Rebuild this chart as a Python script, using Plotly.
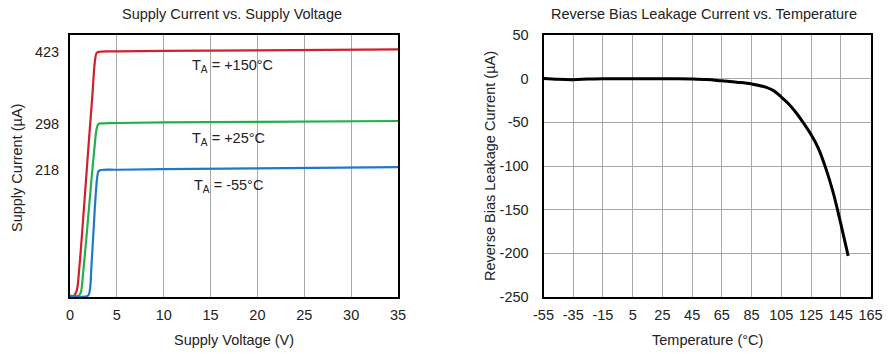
import plotly.graph_objects as go

# ---- Left chart data: Supply Current vs Supply Voltage ----
v_red = [0, 0.4, 0.7, 1.0, 1.5, 2.0, 2.4, 2.65, 2.85, 3.2, 5, 10, 20, 35]
i_red = [0, 0, 8, 50, 155, 265, 350, 405, 421, 423, 423.5, 424.5, 425.5, 427]
v_green = [0, 0.9, 1.15, 1.4, 1.8, 2.2, 2.6, 2.85, 3.05, 3.4, 5, 10, 20, 35]
i_green = [0, 0, 6, 40, 110, 185, 255, 290, 298, 299, 299.5, 300.5, 301.5, 303]
v_blue = [0, 1.9, 2.1, 2.3, 2.5, 2.7, 2.9, 3.05, 3.3, 5, 10, 20, 35]
i_blue = [0, 0, 8, 55, 110, 165, 205, 216, 218, 218.5, 219.5, 221, 223]
left_ytick_vals = [218, 298, 423]
left_xtick_vals = [0, 5, 10, 15, 20, 25, 30, 35]
labels_text = ["T<sub>A</sub> = +150°C", "T<sub>A</sub> = +25°C", "T<sub>A</sub> = -55°C"]
labels_x = [12.8, 12.8, 13.0]
labels_y = [398, 271, 191]

# ---- Right chart data: Reverse Bias Leakage Current vs Temperature ----
temp = [-55, -45, -35, -25, -15, -5, 5, 15, 25, 35, 45, 55, 65, 75, 85, 95,
        100, 105, 110, 115, 120, 125, 130, 135, 140, 145, 150]
leak = [0.3, -0.8, -1.2, -0.5, 0, 0, 0, 0, 0, 0, -0.3, -1, -2.5, -4, -6, -10,
        -14, -21, -29, -39, -51, -64, -80, -103, -131, -166, -203]
right_xtick_vals = [-55, -35, -15, 5, 25, 45, 65, 85, 105, 125, 145, 165]
right_xtick_text = ["-55", "-35", "-15", "5", "25", "45", "65", "85", "105", "125", "145", "165"]
right_ytick_vals = [-250, -200, -150, -100, -50, 0, 50]
right_ytick_text = ["-250", "-200", "-150", "-100", "-50", "0", "50"]

FONT = "Liberation Sans, Arial, sans-serif"
TXT = "#222222"
GRID = "#a8a8a8"

fig = go.Figure()
fig.add_trace(go.Scatter(x=v_red, y=i_red, mode="lines", line=dict(color="#d0202a", width=2.2),
                         line_shape="spline", xaxis="x", yaxis="y", showlegend=False))
fig.add_trace(go.Scatter(x=v_green, y=i_green, mode="lines", line=dict(color="#22b04b", width=2.2),
                         line_shape="spline", xaxis="x", yaxis="y", showlegend=False))
fig.add_trace(go.Scatter(x=v_blue, y=i_blue, mode="lines", line=dict(color="#1f78c8", width=2.2),
                         line_shape="spline", xaxis="x", yaxis="y", showlegend=False))
fig.add_trace(go.Scatter(x=temp, y=leak, mode="lines", line=dict(color="black", width=3),
                         line_shape="spline", xaxis="x2", yaxis="y2", showlegend=False))

W, H = 890, 354
top_px, bot_px = 35, 297
ydom = [1 - bot_px / H, 1 - top_px / H]

axis_common = dict(showline=True, linecolor="black", linewidth=2, mirror=True,
                   ticks="", zeroline=False, automargin=False,
                   tickfont=dict(family=FONT, size=14.5, color=TXT))

fig.update_layout(
    width=W, height=H, margin=dict(l=0, r=0, t=0, b=0, autoexpand=False),
    paper_bgcolor="white", plot_bgcolor="white",
    font=dict(family=FONT, color=TXT),
    xaxis=dict(domain=[70 / W, 398 / W], range=[0, 35], tickvals=left_xtick_vals,
               showgrid=True, gridcolor=GRID, gridwidth=1, anchor="y",
               ticklabelstandoff=4, **axis_common),
    yaxis=dict(domain=ydom, range=[-2, 452], tickvals=left_ytick_vals,
               showgrid=False, anchor="x", ticklabelstandoff=6, **axis_common),
    xaxis2=dict(domain=[543.5 / W, 870.5 / W], range=[-55, 165], tickvals=right_xtick_vals,
                ticktext=right_xtick_text,
                showgrid=True, gridcolor=GRID, gridwidth=1, anchor="y2",
                ticklabelstandoff=4, **axis_common),
    yaxis2=dict(domain=ydom, range=[-250, 50], tickvals=right_ytick_vals,
                ticktext=right_ytick_text,
                showgrid=True, gridcolor=GRID, gridwidth=1, anchor="x2",
                ticklabelstandoff=10, **axis_common),
)

ann = []
# titles
ann.append(dict(text="Supply Current vs. Supply Voltage", x=232 / W, y=1 - 14 / H,
                xref="paper", yref="paper", showarrow=False, xanchor="center", yanchor="middle",
                font=dict(family=FONT, size=14.5, color=TXT)))
ann.append(dict(text="Reverse Bias Leakage Current vs. Temperature", x=704 / W, y=1 - 14 / H,
                xref="paper", yref="paper", showarrow=False, xanchor="center", yanchor="middle",
                font=dict(family=FONT, size=14.5, color=TXT)))
# axis titles
ann.append(dict(text="Supply Voltage (V)", x=234 / W, y=1 - 340 / H, xref="paper", yref="paper",
                showarrow=False, xanchor="center", yanchor="middle",
                font=dict(family=FONT, size=14.5, color=TXT)))
ann.append(dict(text="Temperature (°C)", x=707 / W, y=1 - 340 / H, xref="paper", yref="paper",
                showarrow=False, xanchor="center", yanchor="middle",
                font=dict(family=FONT, size=14.5, color=TXT)))
ann.append(dict(text="Supply Current (µA)", x=17 / W, y=1 - 168 / H, xref="paper", yref="paper",
                showarrow=False, xanchor="center", yanchor="middle", textangle=-90,
                font=dict(family=FONT, size=14.5, color=TXT)))
ann.append(dict(text="Reverse Bias Leakage Current (µA)", x=490 / W, y=1 - 166 / H, xref="paper",
                yref="paper", showarrow=False, xanchor="center", yanchor="middle", textangle=-90,
                font=dict(family=FONT, size=14.5, color=TXT)))
# temperature labels
for t, lx, ly in zip(labels_text, labels_x, labels_y):
    ann.append(dict(text=t, x=lx, y=ly, xref="x", yref="y", showarrow=False,
                    xanchor="left", yanchor="middle", font=dict(family=FONT, size=14.5, color=TXT)))
fig.update_layout(annotations=ann)

fig.write_html("out.html")
